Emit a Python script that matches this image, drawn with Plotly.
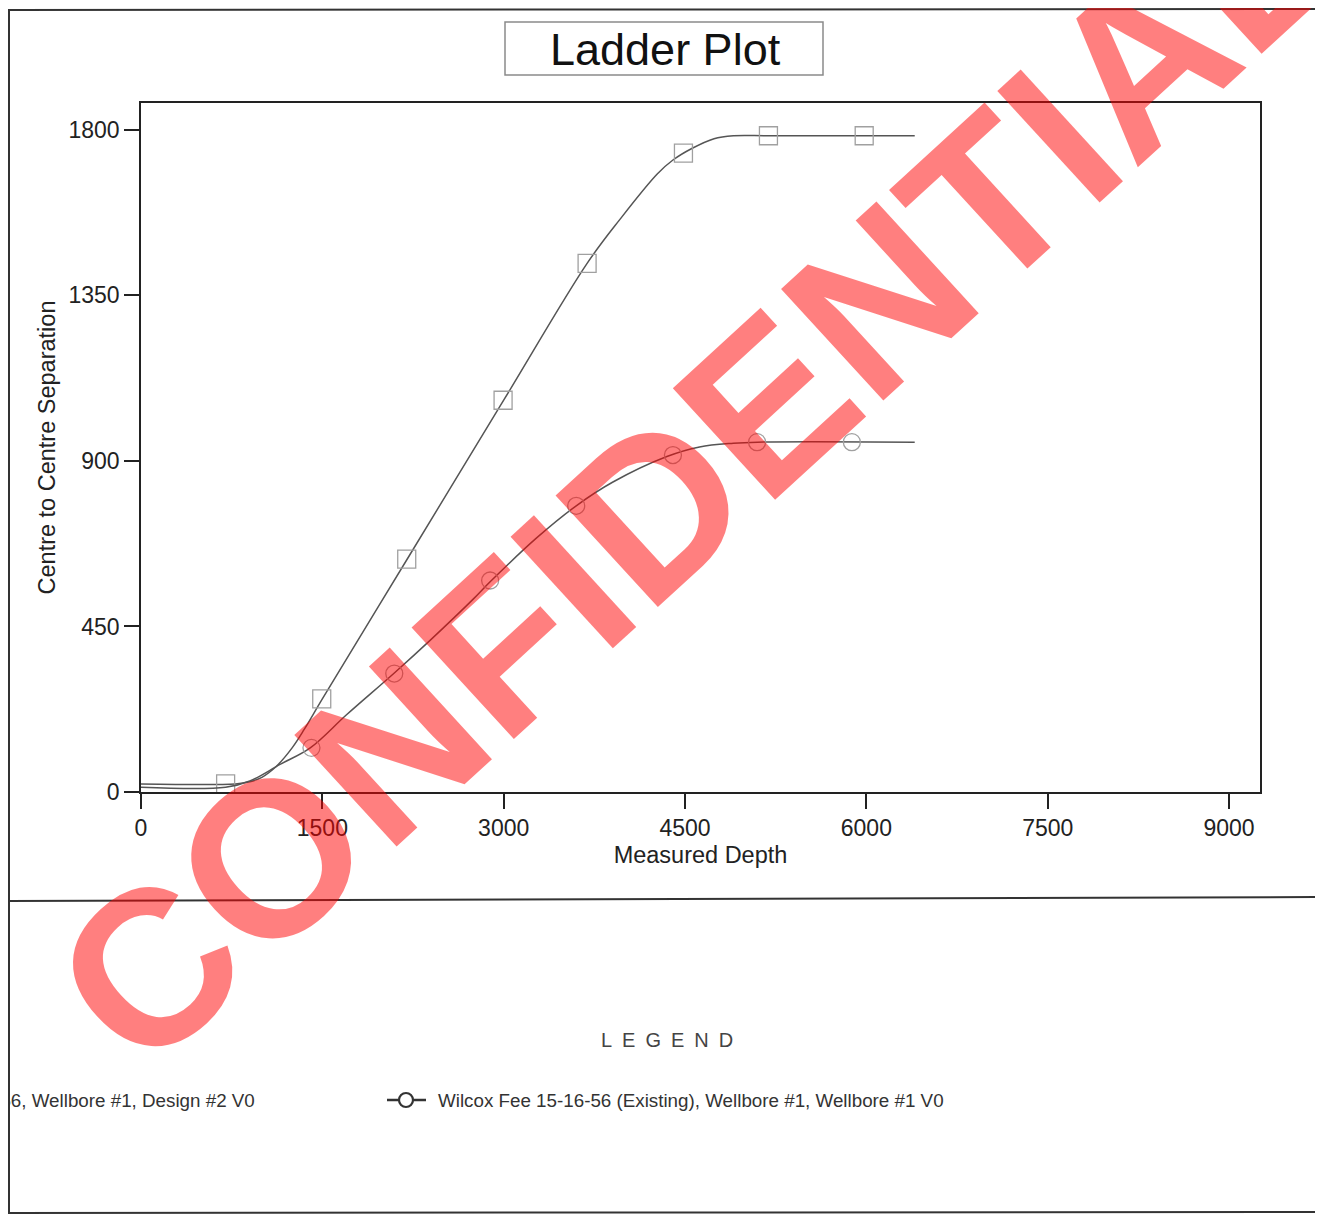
import plotly.graph_objects as go

# ---------------- data ----------------
design_line_md = [0, 780, 900, 1000, 1120, 1250, 1350, 1500, 2200, 3000, 3690, 3960, 4270, 4400, 4560, 4740, 4900, 5200, 6400]
design_line_sep = [22, 22, 28, 40, 70, 120, 170, 253, 632, 1065, 1437, 1556, 1680, 1718, 1750, 1776, 1784, 1784, 1784]
design_mark_md = [700, 1495, 2198, 2995, 3690, 4487, 5190, 5982]
design_mark_sep = [22, 253, 633, 1065, 1437, 1737, 1784, 1784]

exist_line_md = [0, 700, 900, 1150, 1400, 1700, 2100, 2400, 2750, 2890, 3270, 3600, 3900, 4350, 4620, 4900, 5100, 6400]
exist_line_sep = [13, 13, 30, 75, 120, 210, 325, 415, 525, 572, 690, 778, 842, 912, 938, 948, 951, 951]
exist_mark_md = [1410, 2095, 2888, 3600, 4400, 5096, 5880]
exist_mark_sep = [120, 322, 575, 778, 916, 951, 951]

x_ticks = [0, 1500, 3000, 4500, 6000, 7500, 9000]
y_ticks = [0, 450, 900, 1350, 1800]

title_text = "Ladder Plot"
x_title = "Measured Depth"
y_title = "Centre to Centre Separation"
legend_head = "L\u2002E\u2002G\u2002E\u2002N\u2002D"
legend_design = "Wilcox Fee 15-16-56, Wellbore #1, Design #2 V0"
legend_exist = "Wilcox Fee 15-16-56 (Existing), Wellbore #1, Wellbore #1 V0"
watermark = "CONFIDENTIAL"

# ---------------- layout geometry (screen pixels; page body has an 8px margin) ----------------
OFF = 8
W, H = 1323 - OFF, 1216 - OFF
L, R, T, B = 141, 1260, 103, 792   # plot area in screen pixels


def px(x):
    return (x - L) / (R - L)


def py(y):
    return (B - y) / (B - T)


FONT = "Liberation Sans, Arial, sans-serif"
LINE_C = "#555555"
MARK_C = "#a0a0a0"

fig = go.Figure()

fig.add_trace(go.Scatter(x=design_line_md, y=design_line_sep, mode="lines",
                         line=dict(color=LINE_C, width=1.5, shape="spline", smoothing=1.0),
                         hoverinfo="skip", showlegend=False))
fig.add_trace(go.Scatter(x=design_mark_md, y=design_mark_sep, mode="markers",
                         marker=dict(symbol="square-open", size=18, color=MARK_C, line=dict(width=1.3)),
                         showlegend=False))
fig.add_trace(go.Scatter(x=exist_line_md, y=exist_line_sep, mode="lines",
                         line=dict(color=LINE_C, width=1.5, shape="spline", smoothing=1.0),
                         hoverinfo="skip", showlegend=False))
fig.add_trace(go.Scatter(x=exist_mark_md, y=exist_mark_sep, mode="markers",
                         marker=dict(symbol="circle-open", size=17, color=MARK_C, line=dict(width=1.3)),
                         showlegend=False))

shapes = []
BORDER = dict(color="#333333", width=2)
# page frame (slightly skewed, as scanned)
shapes.append(dict(type="line", xref="paper", yref="paper", x0=px(0), y0=py(10), x1=px(1323), y1=py(9), line=BORDER))
shapes.append(dict(type="line", xref="paper", yref="paper", x0=px(9), y0=py(9), x1=px(9), y1=py(1214), line=BORDER))
shapes.append(dict(type="line", xref="paper", yref="paper", x0=px(1318), y0=py(9), x1=px(1318), y1=py(1213), line=BORDER))
shapes.append(dict(type="line", xref="paper", yref="paper", x0=px(0), y0=py(901), x1=px(1323), y1=py(897), line=BORDER))
shapes.append(dict(type="line", xref="paper", yref="paper", x0=px(0), y0=py(1213), x1=px(1323), y1=py(1212), line=BORDER))
# title box
shapes.append(dict(type="rect", xref="paper", yref="paper", x0=px(505), y0=py(75), x1=px(823), y1=py(22),
                   line=dict(color="#8a8a8a", width=1.5), fillcolor="white"))
# legend symbol for existing well
shapes.append(dict(type="line", xref="paper", yref="paper", x0=px(387), y0=py(1100), x1=px(426), y1=py(1100),
                   line=dict(color="#333333", width=2.5)))
shapes.append(dict(type="circle", xref="paper", yref="paper", x0=px(399), y0=py(1107), x1=px(413), y1=py(1093),
                   line=dict(color="#333333", width=2.2), fillcolor="white"))

annotations = [
    dict(text=title_text, x=px(665), y=py(49), xref="paper", yref="paper", showarrow=False,
         xanchor="center", yanchor="middle", font=dict(family=FONT, size=45, color="#111111")),
    dict(text=legend_head, x=px(667), y=py(1040), xref="paper", yref="paper", showarrow=False,
         xanchor="center", yanchor="middle", font=dict(family=FONT, size=20, color="#444444")),
    dict(text=legend_design, x=px(257), y=py(1100), xref="paper", yref="paper", showarrow=False,
         xanchor="right", yanchor="middle", font=dict(family=FONT, size=18.8, color="#333333")),
    dict(text=legend_exist, x=px(436), y=py(1100), xref="paper", yref="paper", showarrow=False,
         xanchor="left", yanchor="middle", font=dict(family=FONT, size=18.8, color="#333333")),
    dict(text="<b>" + watermark + "</b>", x=px(695), y=py(470), xref="paper", yref="paper", showarrow=False,
         xanchor="center", yanchor="middle", textangle=-42.5,
         font=dict(family=FONT, size=220, color="rgba(255,0,0,0.5)")),
]

fig.update_layout(
    width=W, height=H,
    margin=dict(l=L - OFF, r=W - (R - OFF), t=T - OFF, b=H - (B - OFF), pad=0),
    paper_bgcolor="white", plot_bgcolor="white",
    shapes=shapes, annotations=annotations,
    font=dict(family=FONT, color="#222222"),
    xaxis=dict(range=[0, 9256], tickvals=x_ticks, ticktext=[str(v) for v in x_ticks],
               showgrid=False, zeroline=False, showline=True, mirror=True,
               linecolor="#222222", linewidth=1.6, ticks="outside", ticklen=15, tickwidth=1.5,
               tickcolor="#222222", tickfont=dict(size=23, color="#222222"),
               title=dict(text=x_title, font=dict(size=23.5, color="#222222"), standoff=6)),
    yaxis=dict(range=[0, 1873], tickvals=y_ticks, ticktext=[str(v) for v in y_ticks],
               showgrid=False, zeroline=False, showline=True, mirror=True,
               linecolor="#222222", linewidth=1.6, ticks="outside", ticklen=15, tickwidth=1.5,
               tickcolor="#222222", tickfont=dict(size=23, color="#222222"),
               title=dict(text=y_title, font=dict(size=23.5, color="#222222"), standoff=6)),
)

fig.write_html("out.html")
